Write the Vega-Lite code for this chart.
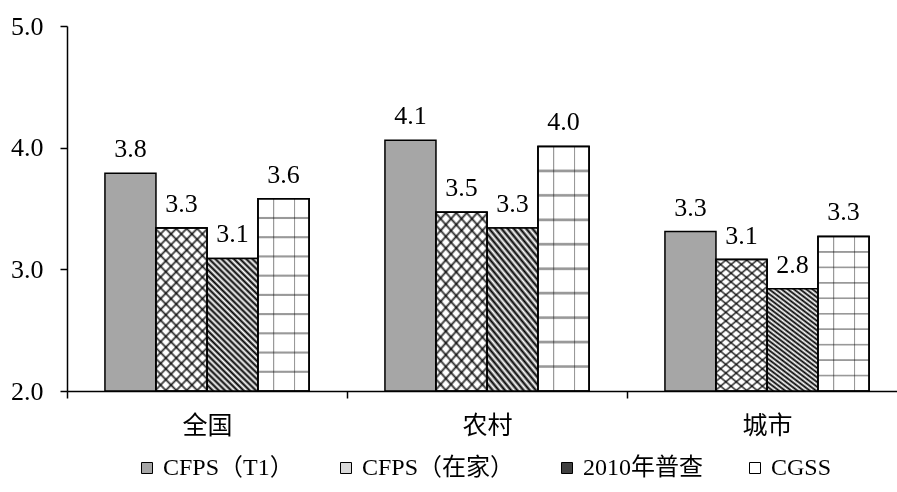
{
  "$schema": "https://vega.github.io/schema/vega-lite/v6.json",
  "width": 830,
  "height": 365,
  "autosize": "none",
  "padding": {"left": 67, "top": 26, "right": 0, "bottom": 101},
  "config": {
    "font": "Liberation Serif, Noto Sans CJK SC",
    "view": {"stroke": null},
    "axis": {
      "labelColor": "black",
      "labelFont": "Liberation Serif, Noto Sans CJK SC",
      "labelFontSize": 26,
      "domainColor": "black",
      "domainWidth": 1.5,
      "tickColor": "black",
      "tickWidth": 1.5,
      "tickSize": 7,
      "grid": false,
      "title": null
    }
  },
  "data": {
    "values": [
      {"group": "全国", "series": "CFPS（T1）", "value": 3.79},
      {"group": "全国", "series": "CFPS（在家）", "value": 3.34},
      {"group": "全国", "series": "2010年普查", "value": 3.09},
      {"group": "全国", "series": "CGSS", "value": 3.58},
      {"group": "农村", "series": "CFPS（T1）", "value": 4.06},
      {"group": "农村", "series": "CFPS（在家）", "value": 3.47},
      {"group": "农村", "series": "2010年普查", "value": 3.34},
      {"group": "农村", "series": "CGSS", "value": 4.01},
      {"group": "城市", "series": "CFPS（T1）", "value": 3.31},
      {"group": "城市", "series": "CFPS（在家）", "value": 3.08},
      {"group": "城市", "series": "2010年普查", "value": 2.84},
      {"group": "城市", "series": "CGSS", "value": 3.27}
    ]
  },
  "encoding": {
    "x": {
      "field": "group",
      "type": "nominal",
      "scale": {"domain": ["全国", "农村", "城市"], "range": [0, 840], "paddingInner": 0.271, "paddingOuter": 0.1355},
      "axis": {"labelAngle": 0, "bandPosition": 0, "tickOffset": -38, "labelOffset": 38, "labelPadding": 15, "labelFontSize": 25}
    },
    "xOffset": {
      "field": "series",
      "type": "nominal",
      "scale": {"domain": ["CFPS（T1）", "CFPS（在家）", "2010年普查", "CGSS"], "paddingInner": 0, "paddingOuter": 0}
    },
    "y": {
      "field": "value",
      "type": "quantitative",
      "scale": {"domain": [2, 5], "zero": false, "nice": false},
      "axis": {"values": [2, 3, 4, 5], "format": ".1f", "labelPadding": 17}
    }
  },
  "layer": [
    {
      "mark": {"type": "bar", "stroke": "black", "strokeWidth": 1.5},
      "encoding": {
        "y2": {"datum": 2},
        "fill": {
          "field": "series",
          "type": "nominal",
          "scale": {"domain": ["CFPS（T1）", "CFPS（在家）", "2010年普查", "CGSS"], "range": ["#a6a6a6", "#d9d9d9", "#404040", "#ffffff"]},
          "legend": {
            "title": null,
            "orient": "none",
            "legendX": 68,
            "legendY": 430,
            "direction": "horizontal",
            "symbolType": "square",
            "symbolSize": 121,
            "symbolStrokeColor": "black",
            "symbolStrokeWidth": 1,
            "labelFontSize": 24,
            "labelFont": "Liberation Serif, Noto Sans CJK SC",
            "labelColor": "black",
            "labelOffset": 4,
            "labelLimit": 300,
            "columnPadding": 40
          }
        }
      }
    },
    {
      "transform": [{"filter": "datum.series === '2010年普查'"}],
      "mark": {
        "type": "bar", "stroke": "black", "strokeWidth": 1.5,
        "fill": {
          "gradient": "linear", "x1": 0, "y1": 1, "x2": 0.458, "y2": -0.206,
          "stops": [
            {"offset": 0, "color": "#000"}, {"offset": 0.0167, "color": "#fff"}, {"offset": 0.0333, "color": "#000"}, {"offset": 0.05, "color": "#fff"},
            {"offset": 0.0667, "color": "#000"}, {"offset": 0.0833, "color": "#fff"}, {"offset": 0.1, "color": "#000"}, {"offset": 0.1167, "color": "#fff"},
            {"offset": 0.1333, "color": "#000"}, {"offset": 0.15, "color": "#fff"}, {"offset": 0.1667, "color": "#000"}, {"offset": 0.1833, "color": "#fff"},
            {"offset": 0.2, "color": "#000"}, {"offset": 0.2167, "color": "#fff"}, {"offset": 0.2333, "color": "#000"}, {"offset": 0.25, "color": "#fff"},
            {"offset": 0.2667, "color": "#000"}, {"offset": 0.2833, "color": "#fff"}, {"offset": 0.3, "color": "#000"}, {"offset": 0.3167, "color": "#fff"},
            {"offset": 0.3333, "color": "#000"}, {"offset": 0.35, "color": "#fff"}, {"offset": 0.3667, "color": "#000"}, {"offset": 0.3833, "color": "#fff"},
            {"offset": 0.4, "color": "#000"}, {"offset": 0.4167, "color": "#fff"}, {"offset": 0.4333, "color": "#000"}, {"offset": 0.45, "color": "#fff"},
            {"offset": 0.4667, "color": "#000"}, {"offset": 0.4833, "color": "#fff"}, {"offset": 0.5, "color": "#000"}, {"offset": 0.5167, "color": "#fff"},
            {"offset": 0.5333, "color": "#000"}, {"offset": 0.55, "color": "#fff"}, {"offset": 0.5667, "color": "#000"}, {"offset": 0.5833, "color": "#fff"},
            {"offset": 0.6, "color": "#000"}, {"offset": 0.6167, "color": "#fff"}, {"offset": 0.6333, "color": "#000"}, {"offset": 0.65, "color": "#fff"},
            {"offset": 0.6667, "color": "#000"}, {"offset": 0.6833, "color": "#fff"}, {"offset": 0.7, "color": "#000"}, {"offset": 0.7167, "color": "#fff"},
            {"offset": 0.7333, "color": "#000"}, {"offset": 0.75, "color": "#fff"}, {"offset": 0.7667, "color": "#000"}, {"offset": 0.7833, "color": "#fff"},
            {"offset": 0.8, "color": "#000"}, {"offset": 0.8167, "color": "#fff"}, {"offset": 0.8333, "color": "#000"}, {"offset": 0.85, "color": "#fff"},
            {"offset": 0.8667, "color": "#000"}, {"offset": 0.8833, "color": "#fff"}, {"offset": 0.9, "color": "#000"}, {"offset": 0.9167, "color": "#fff"},
            {"offset": 0.9333, "color": "#000"}, {"offset": 0.95, "color": "#fff"}, {"offset": 0.9667, "color": "#000"}, {"offset": 0.9833, "color": "#fff"},
            {"offset": 1, "color": "#000"}
          ]
        }
      },
      "encoding": {"y2": {"datum": 2}}
    },
    {
      "transform": [{"filter": "datum.series === 'CFPS（在家）'"}],
      "mark": {
        "type": "bar", "stroke": "black", "strokeWidth": 1.5,
        "fill": {
          "gradient": "linear", "x1": 0, "y1": 1, "x2": 0.387, "y2": -0.198,
          "stops": [
            {"offset": 0, "color": "#333"}, {"offset": 0.012, "color": "#fff"}, {"offset": 0.038, "color": "#fff"},
            {"offset": 0.05, "color": "#333"}, {"offset": 0.062, "color": "#fff"}, {"offset": 0.088, "color": "#fff"},
            {"offset": 0.1, "color": "#333"}, {"offset": 0.112, "color": "#fff"}, {"offset": 0.138, "color": "#fff"},
            {"offset": 0.15, "color": "#333"}, {"offset": 0.162, "color": "#fff"}, {"offset": 0.188, "color": "#fff"},
            {"offset": 0.2, "color": "#333"}, {"offset": 0.212, "color": "#fff"}, {"offset": 0.238, "color": "#fff"},
            {"offset": 0.25, "color": "#333"}, {"offset": 0.262, "color": "#fff"}, {"offset": 0.288, "color": "#fff"},
            {"offset": 0.3, "color": "#333"}, {"offset": 0.312, "color": "#fff"}, {"offset": 0.338, "color": "#fff"},
            {"offset": 0.35, "color": "#333"}, {"offset": 0.362, "color": "#fff"}, {"offset": 0.388, "color": "#fff"},
            {"offset": 0.4, "color": "#333"}, {"offset": 0.412, "color": "#fff"}, {"offset": 0.438, "color": "#fff"},
            {"offset": 0.45, "color": "#333"}, {"offset": 0.462, "color": "#fff"}, {"offset": 0.488, "color": "#fff"},
            {"offset": 0.5, "color": "#333"}, {"offset": 0.512, "color": "#fff"}, {"offset": 0.538, "color": "#fff"},
            {"offset": 0.55, "color": "#333"}, {"offset": 0.562, "color": "#fff"}, {"offset": 0.588, "color": "#fff"},
            {"offset": 0.6, "color": "#333"}, {"offset": 0.612, "color": "#fff"}, {"offset": 0.638, "color": "#fff"},
            {"offset": 0.65, "color": "#333"}, {"offset": 0.662, "color": "#fff"}, {"offset": 0.688, "color": "#fff"},
            {"offset": 0.7, "color": "#333"}, {"offset": 0.712, "color": "#fff"}, {"offset": 0.738, "color": "#fff"},
            {"offset": 0.75, "color": "#333"}, {"offset": 0.762, "color": "#fff"}, {"offset": 0.788, "color": "#fff"},
            {"offset": 0.8, "color": "#333"}, {"offset": 0.812, "color": "#fff"}, {"offset": 0.838, "color": "#fff"},
            {"offset": 0.85, "color": "#333"}, {"offset": 0.862, "color": "#fff"}, {"offset": 0.888, "color": "#fff"},
            {"offset": 0.9, "color": "#333"}, {"offset": 0.912, "color": "#fff"}, {"offset": 0.938, "color": "#fff"},
            {"offset": 0.95, "color": "#333"}, {"offset": 0.962, "color": "#fff"}, {"offset": 0.988, "color": "#fff"},
            {"offset": 1, "color": "#333"}
          ]
        }
      },
      "encoding": {"y2": {"datum": 2}}
    },
    {
      "transform": [{"filter": "datum.series === 'CFPS（在家）'"}],
      "mark": {
        "type": "bar", "stroke": "black", "strokeWidth": 1.5, "blend": "multiply",
        "fill": {
          "gradient": "linear", "x1": 0, "y1": 0, "x2": 0.387, "y2": 1.198,
          "stops": [
            {"offset": 0, "color": "#333"}, {"offset": 0.012, "color": "#fff"}, {"offset": 0.038, "color": "#fff"},
            {"offset": 0.05, "color": "#333"}, {"offset": 0.062, "color": "#fff"}, {"offset": 0.088, "color": "#fff"},
            {"offset": 0.1, "color": "#333"}, {"offset": 0.112, "color": "#fff"}, {"offset": 0.138, "color": "#fff"},
            {"offset": 0.15, "color": "#333"}, {"offset": 0.162, "color": "#fff"}, {"offset": 0.188, "color": "#fff"},
            {"offset": 0.2, "color": "#333"}, {"offset": 0.212, "color": "#fff"}, {"offset": 0.238, "color": "#fff"},
            {"offset": 0.25, "color": "#333"}, {"offset": 0.262, "color": "#fff"}, {"offset": 0.288, "color": "#fff"},
            {"offset": 0.3, "color": "#333"}, {"offset": 0.312, "color": "#fff"}, {"offset": 0.338, "color": "#fff"},
            {"offset": 0.35, "color": "#333"}, {"offset": 0.362, "color": "#fff"}, {"offset": 0.388, "color": "#fff"},
            {"offset": 0.4, "color": "#333"}, {"offset": 0.412, "color": "#fff"}, {"offset": 0.438, "color": "#fff"},
            {"offset": 0.45, "color": "#333"}, {"offset": 0.462, "color": "#fff"}, {"offset": 0.488, "color": "#fff"},
            {"offset": 0.5, "color": "#333"}, {"offset": 0.512, "color": "#fff"}, {"offset": 0.538, "color": "#fff"},
            {"offset": 0.55, "color": "#333"}, {"offset": 0.562, "color": "#fff"}, {"offset": 0.588, "color": "#fff"},
            {"offset": 0.6, "color": "#333"}, {"offset": 0.612, "color": "#fff"}, {"offset": 0.638, "color": "#fff"},
            {"offset": 0.65, "color": "#333"}, {"offset": 0.662, "color": "#fff"}, {"offset": 0.688, "color": "#fff"},
            {"offset": 0.7, "color": "#333"}, {"offset": 0.712, "color": "#fff"}, {"offset": 0.738, "color": "#fff"},
            {"offset": 0.75, "color": "#333"}, {"offset": 0.762, "color": "#fff"}, {"offset": 0.788, "color": "#fff"},
            {"offset": 0.8, "color": "#333"}, {"offset": 0.812, "color": "#fff"}, {"offset": 0.838, "color": "#fff"},
            {"offset": 0.85, "color": "#333"}, {"offset": 0.862, "color": "#fff"}, {"offset": 0.888, "color": "#fff"},
            {"offset": 0.9, "color": "#333"}, {"offset": 0.912, "color": "#fff"}, {"offset": 0.938, "color": "#fff"},
            {"offset": 0.95, "color": "#333"}, {"offset": 0.962, "color": "#fff"}, {"offset": 0.988, "color": "#fff"},
            {"offset": 1, "color": "#333"}
          ]
        }
      },
      "encoding": {"y2": {"datum": 2}}
    },
    {
      "transform": [{"filter": "datum.series === 'CGSS'"}],
      "mark": {
        "type": "bar", "stroke": "black", "strokeWidth": 1.5,
        "fill": {
          "gradient": "linear", "x1": 0, "y1": 0, "x2": 1, "y2": 0,
          "stops": [
            {"offset": 0, "color": "#fff"}, {"offset": 0.29, "color": "#fff"}, {"offset": 0.3, "color": "#999"}, {"offset": 0.315, "color": "#999"}, {"offset": 0.325, "color": "#fff"},
            {"offset": 0.7, "color": "#fff"}, {"offset": 0.71, "color": "#999"}, {"offset": 0.725, "color": "#999"}, {"offset": 0.735, "color": "#fff"},
            {"offset": 1, "color": "#fff"}
          ]
        }
      },
      "encoding": {"y2": {"datum": 2}}
    },
    {
      "transform": [{"filter": "datum.series === 'CGSS'"}],
      "mark": {
        "type": "bar", "stroke": "black", "strokeWidth": 1.5, "blend": "multiply",
        "fill": {
          "gradient": "linear", "x1": 0, "y1": 0, "x2": 0, "y2": 1,
          "stops": [
            {"offset": 0, "color": "#fff"},
            {"offset": 0.092, "color": "#fff"}, {"offset": 0.097, "color": "#999"}, {"offset": 0.103, "color": "#999"}, {"offset": 0.108, "color": "#fff"},
            {"offset": 0.192, "color": "#fff"}, {"offset": 0.197, "color": "#999"}, {"offset": 0.203, "color": "#999"}, {"offset": 0.208, "color": "#fff"},
            {"offset": 0.292, "color": "#fff"}, {"offset": 0.297, "color": "#999"}, {"offset": 0.303, "color": "#999"}, {"offset": 0.308, "color": "#fff"},
            {"offset": 0.392, "color": "#fff"}, {"offset": 0.397, "color": "#999"}, {"offset": 0.403, "color": "#999"}, {"offset": 0.408, "color": "#fff"},
            {"offset": 0.492, "color": "#fff"}, {"offset": 0.497, "color": "#999"}, {"offset": 0.503, "color": "#999"}, {"offset": 0.508, "color": "#fff"},
            {"offset": 0.592, "color": "#fff"}, {"offset": 0.597, "color": "#999"}, {"offset": 0.603, "color": "#999"}, {"offset": 0.608, "color": "#fff"},
            {"offset": 0.692, "color": "#fff"}, {"offset": 0.697, "color": "#999"}, {"offset": 0.703, "color": "#999"}, {"offset": 0.708, "color": "#fff"},
            {"offset": 0.792, "color": "#fff"}, {"offset": 0.797, "color": "#999"}, {"offset": 0.803, "color": "#999"}, {"offset": 0.808, "color": "#fff"},
            {"offset": 0.892, "color": "#fff"}, {"offset": 0.897, "color": "#999"}, {"offset": 0.903, "color": "#999"}, {"offset": 0.908, "color": "#fff"},
            {"offset": 1, "color": "#fff"}
          ]
        }
      },
      "encoding": {"y2": {"datum": 2}}
    },
    {
      "mark": {"type": "text", "baseline": "alphabetic", "dy": -16, "fontSize": 26, "color": "black"},
      "encoding": {"text": {"field": "value", "type": "quantitative", "format": ".1f"}}
    }
  ]
}
